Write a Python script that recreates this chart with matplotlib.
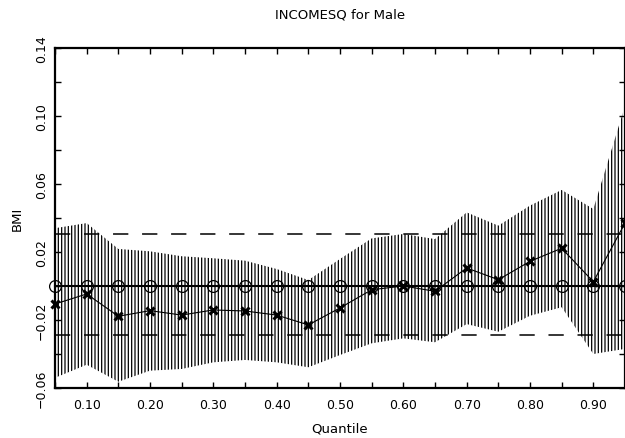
import matplotlib
matplotlib.use("Agg")
import matplotlib.pyplot as plt
import numpy as np

plt.rcParams['font.family'] = ['DejaVu Sans']
plt.rcParams['hatch.linewidth'] = 0.9

quantiles = [0.05, 0.10, 0.15, 0.20, 0.25, 0.30, 0.35, 0.40, 0.45, 0.50,
             0.55, 0.60, 0.65, 0.70, 0.75, 0.80, 0.85, 0.90, 0.95]
estimate = [-0.0106, -0.0047, -0.0178, -0.0145, -0.0171, -0.0141, -0.0147, -0.0171, -0.0229, -0.0129,
            -0.0022, 0.0000, -0.0031, 0.0106, 0.0037, 0.0145, 0.0222, 0.0025, 0.0370]
upper = [0.0340, 0.0370, 0.0218, 0.0204, 0.0175, 0.0163, 0.0149, 0.0100, 0.0035, 0.0159,
         0.0280, 0.0306, 0.0276, 0.0433, 0.0355, 0.0473, 0.0565, 0.0453, 0.1060]
lower = [-0.0540, -0.0463, -0.0563, -0.0498, -0.0488, -0.0449, -0.0435, -0.0449, -0.0478, -0.0406,
         -0.0337, -0.0308, -0.0331, -0.0224, -0.0269, -0.0175, -0.0125, -0.0400, -0.0370]
ols_value = 0.0
ols_upper = 0.0306
ols_lower = -0.0286

xtick_labels = ["0.10", "0.20", "0.30", "0.40", "0.50", "0.60", "0.70", "0.80", "0.90"]
ytick_labels = ["\u22120.06", "\u22120.02", "0.02", "0.06", "0.10", "0.14"]

fig = plt.figure(figsize=(6.25, 4.39), dpi=100)
ax = fig.add_axes([0.088, 0.1139, 0.912, 0.7745])

ax.fill_between(quantiles, lower, upper, facecolor='none', edgecolor='black',
                hatch='|' * 5, linewidth=0, zorder=1)

ax.axhline(ols_upper, color='black', lw=1.1, dashes=(10, 9), zorder=2)
ax.axhline(ols_lower, color='black', lw=1.1, dashes=(10, 9), zorder=2)

ax.plot(quantiles, [ols_value] * len(quantiles), color='black', lw=1.5,
        marker='o', ms=8.5, mfc='none', mec='black', mew=0.9, zorder=3, clip_on=False)
ax.plot(quantiles, estimate, color='black', lw=0.8, marker='x', ms=5.5, mew=2.2,
        zorder=4, clip_on=False)

ax.set_xlim(0.05, 0.95)
ax.set_ylim(-0.06, 0.14)

ax.set_xticks(np.arange(0.05, 0.951, 0.05), minor=True)
ax.set_xticks([0.1, 0.2, 0.3, 0.4, 0.5, 0.6, 0.7, 0.8, 0.9])
ax.set_xticklabels(xtick_labels)
ax.set_yticks(np.arange(-0.06, 0.141, 0.02), minor=True)
ax.set_yticks([-0.06, -0.02, 0.02, 0.06, 0.10, 0.14])
ax.set_yticklabels(ytick_labels, rotation=90, va='center')

ax.tick_params(which='both', direction='in', length=4, width=1, top=True, right=True,
               labelsize=9, pad=7)
ax.tick_params(axis='y', which='both', pad=5)

for s in ax.spines.values():
    s.set_linewidth(1.6)

ax.set_title("INCOMESQ for Male", fontsize=9.5, pad=22)
ax.set_xlabel("Quantile", fontsize=9.5, labelpad=8)
ax.set_ylabel("BMI", fontsize=9.5, labelpad=8)

fig.savefig("out.png", dpi=100)
